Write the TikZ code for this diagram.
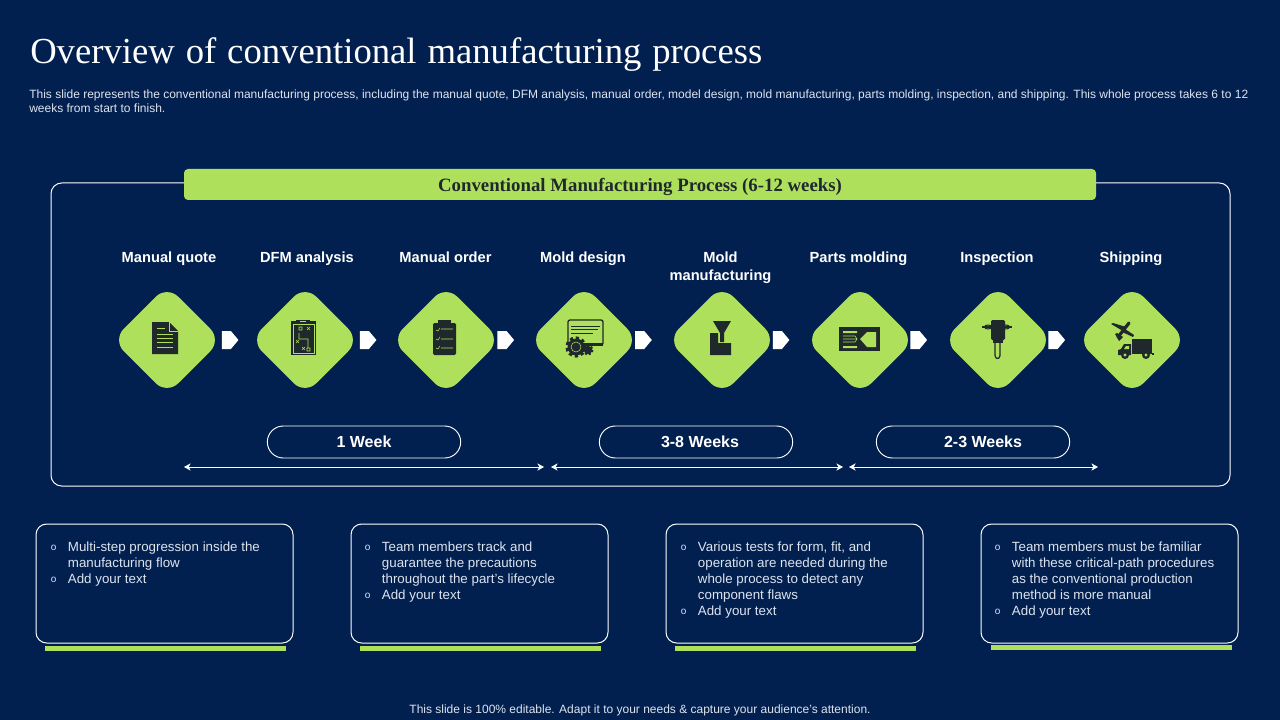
\documentclass[tikz,border=0pt]{standalone}
\usepackage{fontspec}
\setmainfont{Liberation Sans}
\newfontfamily\titlefont{Liberation Serif}
\newfontfamily\headfont{Liberation Serif}
\usetikzlibrary{positioning, arrows.meta, shapes.geometric, shapes.symbols}
\definecolor{pagenavy}{RGB}{1,32,79}
\definecolor{leafgreen}{RGB}{175,224,92}
\definecolor{icondark}{RGB}{31,41,44}
\definecolor{softwhite}{RGB}{222,228,238}
\newcommand{\ringmark}{\raisebox{0.6pt}{\fontsize{7.5}{7.5}\selectfont o}}
\newcommand{\titlegaps}{\spaceskip=8.2pt\relax}

\begin{document}
\begin{tikzpicture}[
    x=0.75pt, y=-0.75pt,
    on grid,
    >={Stealth[length=5pt, width=5.5pt, inset=1.5pt]},
    stepbox/.style={diamond, aspect=1, fill=leafgreen, rounded corners=12pt, minimum size=81.75pt, inner sep=0pt, outer sep=0pt},
    nudge/.style={signal, signal to=east, signal pointer angle=100, fill=white, minimum width=12.5pt, minimum height=13.5pt, inner sep=0pt, outer sep=0pt},
    steplbl/.style={text=white, align=center, font=\fontsize{11}{13.5}\selectfont\bfseries, anchor=north},
    pill/.style={draw=white, line width=0.7pt, rounded corners=12pt, minimum width=145pt, minimum height=24pt, inner sep=0pt, text=white, font=\fontsize{12}{14}\selectfont\bfseries},
    span/.style={<->, draw=white, line width=0.7pt},
    notebox/.style={draw=white, line width=0.75pt, rounded corners=8pt, minimum width=192.75pt, minimum height=89.25pt, inner sep=0pt},
    notetext/.style={anchor=north west, text=softwhite, inner sep=0pt, xshift=11.25pt, yshift=-12.25pt, font=\fontsize{10}{12}\selectfont},
    notebar/.style={fill=leafgreen, minimum width=180.75pt, minimum height=3.75pt, inner sep=0pt},
    ink/.style={fill=icondark},
    vein/.style={draw=leafgreen, line width=0.4pt}
]
\fill[pagenavy] (0,0) rectangle (1280,720);
\useasboundingbox (0,0) rectangle (1280,720);

\node[anchor=base west, inner sep=0pt, text=white, font=\titlefont\fontsize{27.5}{32}\selectfont\titlegaps] (title) at (30,64) {Overview of conventional manufacturing process};
\node[anchor=north west, inner sep=0pt, align=left, text=softwhite, font=\fontsize{9}{10.5}\selectfont] (intro) at (29,90) {This slide represents the conventional manufacturing process, including the manual quote, DFM analysis, manual order, model design, mold manufacturing, parts molding, inspection, and shipping. This whole process takes 6 to 12\\weeks from start to finish.};

\node[draw=white, line width=0.75pt, rounded corners=8pt, minimum width=884.25pt, minimum height=227.25pt, inner sep=0pt] (frame) at (640.5,334.5) {};
\node[fill=leafgreen, rounded corners=3pt, minimum width=684pt, minimum height=23.25pt, inner sep=0pt, text height=13.5pt, text depth=3.5pt, text=icondark, font=\headfont\fontsize{14.1}{16}\selectfont\bfseries] (banner) at (640,184.5) {Conventional Manufacturing Process (6-12 weeks)};

\node[stepbox] (quote) at (167,340) {};
\node[stepbox, right=103.5pt of quote] (dfm) {};
\node[stepbox, right=105.75pt of dfm] (order) {};
\node[stepbox, right=103.5pt of order] (design) {};
\node[stepbox, right=103.5pt of design] (mold) {};
\node[stepbox, right=103.5pt of mold] (molding) {};
\node[stepbox, right=103.5pt of molding] (inspect) {};
\node[stepbox, right=100.5pt of inspect] (ship) {};

\node[steplbl] (quotelbl) at (169,247) {Manual quote};
\node[steplbl] (dfmlbl) at (307,247) {DFM analysis};
\node[steplbl] (orderlbl) at (445.5,247) {Manual order};
\node[steplbl] (designlbl) at (583,247) {Mold design};
\node[steplbl] (moldlbl) at (720.5,247) {Mold\\manufacturing};
\node[steplbl] (moldinglbl) at (858.5,247) {Parts molding};
\node[steplbl] (inspectlbl) at (997,247) {Inspection};
\node[steplbl] (shiplbl) at (1131,247) {Shipping};

\node[nudge, right=44.5pt of quote] (nudgea) {};
\node[nudge, right=44.5pt of dfm] (nudgeb) {};
\node[nudge, right=42pt of order] (nudgec) {};
\node[nudge, right=41.75pt of design] (nudged) {};
\node[nudge, right=41.5pt of mold] (nudgee) {};
\node[nudge, right=41.25pt of molding] (nudgef) {};
\node[nudge, right=41.25pt of inspect] (nudgeg) {};

\begin{scope}[shift={(quote.center)}]
\fill[ink] (-15,-18) -- (2,-18) -- (11,-9) -- (11,14) -- (-15,14) -- cycle;
\draw[vein] (2,-18) -- (2,-9) -- (11,-9);
\draw[vein] (-10,-12) -- (-2,-12) (-10,-6) -- (6,-6) (-10,-2) -- (6,-2) (-10,2) -- (6,2) (-10,7) -- (6,7);
\end{scope}

\begin{scope}[shift={(dfm.center)}]
\fill[ink] (-14,-19) rectangle (11,15);
\fill[ink] (-9,-20) rectangle (5,-16);
\draw[vein] (-12,-16) -- (-12,13) -- (9,13) -- (9,-16) -- cycle;
\draw[vein] (-5,-18.5) -- (1,-18.5);
\draw[vein] (-6,-13) rectangle (-3,-10) (-6,-7) -- (-6,-1) -- (3,-1) -- (3,8) (2,-13) -- (5,-10) (5,-13) -- (2,-10);
\draw[vein] (-9,0) -- (-6,3) (-6,0) -- (-9,3) (-3,7) -- (0,10) (0,7) -- (-3,10) (2,8) rectangle (5,11);
\end{scope}

\begin{scope}[shift={(order.center)}]
\fill[ink, rounded corners=1pt] (-13,-17) rectangle (10,15);
\fill[ink] (-8,-20) rectangle (5,-15);
\draw[vein] (-10,-10) -- (-8,-9) -- (-6,-12) (-5,-11) -- (7,-11);
\draw[vein] (-10,-1) -- (-8,0) -- (-6,-3) (-5,-1) -- (7,-1);
\draw[vein] (-10,8) -- (-8,9) -- (-6,6) (-5,8) -- (7,8);
\end{scope}

\begin{scope}[shift={(design.center)}]
\draw[draw=icondark, line width=1pt, rounded corners=1.5pt] (-16,-20) rectangle (19,5);
\fill[ink] (-16,3) rectangle (19,6);
\draw[draw=icondark, line width=0.7pt] (-13,-14) -- (16,-14) (-13,-11) -- (14,-11) (-13,-7) -- (9,-7);
\fill[ink] (4,10) circle (4.2);
\draw[draw=icondark, line width=1.6pt, dash pattern=on 1.6pt off 1.4pt] (4,10) circle (4.5);
\fill[ink] (-8,7) circle (8.5);
\draw[draw=icondark, line width=2.4pt, dash pattern=on 2.4pt off 2.1pt] (-8,7) circle (9);
\draw[vein] (-8,7) circle (5);
\end{scope}

\begin{scope}[shift={(mold.center)}]
\fill[ink] (-9,-19) -- (9,-19) -- (2,-7) -- (2,2) -- (-2,2) -- (-2,-7) -- cycle;
\fill[ink] (-12,-7) -- (-4,-7) -- (-4,3) -- (9,3) -- (9,15) -- (-12,15) -- cycle;
\end{scope}

\begin{scope}[shift={(molding.center)}]
\fill[ink] (-21,-13) rectangle (20,11);
\fill[leafgreen] (0,-1) -- (7,-8) -- (16,-8) -- (16,7) -- (7,7) -- cycle;
\fill[leafgreen] (-17,-9) rectangle (-3,-7) (-17,6) rectangle (-3,8);
\draw[vein] (-17,-4) -- (-5,-4) -- (-3,-1) -- (-5,2) -- (-17,2) (-17,-1) -- (-3,-1);
\end{scope}

\begin{scope}[shift={(inspect.center)}]
\draw[draw=icondark, line width=0.8pt] (-16,-13) -- (14,-13);
\draw[draw=icondark, line width=0.8pt] (-10,-13) ellipse (3.5 and 2) (8,-13) ellipse (3.5 and 2);
\fill[ink, rounded corners=1pt] (-7,-20) rectangle (7,0);
\fill[ink] (-5,0) rectangle (5,3);
\draw[draw=icondark, line width=0.9pt, rounded corners=1pt] (-3,3) -- (-3,17) -- (-0.5,19) -- (2,17) -- (2,3);
\end{scope}

\begin{scope}[shift={(ship.center)}]
\draw[draw=icondark, line width=2.4pt, line cap=round] (-3,-17) -- (-14,-3);
\fill[ink] (-21,-16) -- (-19,-17) -- (-6,-13) -- (-9,-9) -- cycle;
\fill[ink] (-10,-8) -- (-7,-11) -- (2,-5) -- (1,-3) -- cycle;
\fill[ink] (-17,-6) -- (-15,-7) -- (-9,-3) -- (-13,1) -- cycle;
\fill[ink] (0,-1) rectangle (20,14);
\fill[ink] (-1,4) -- (-8,4) -- (-11,9) -- (-14,10) -- (-14,15) -- (-1,15) -- cycle;
\fill[leafgreen] (-6,6) -- (-3,6) -- (-3,9) -- (-8,9) -- cycle;
\fill[ink] (20,13) rectangle (22,15);
\fill[ink] (-7,15) circle (4) (14,15) circle (4);
\fill[leafgreen] (-7,15) circle (1.7) (14,15) circle (1.7);
\end{scope}

\node[pill] (weeka) at (364,442) {1 Week};
\node[pill] (weekb) at (696,442) {\hspace{6pt}3-8 Weeks};
\node[pill] (weekc) at (973,442) {\hspace{15pt}2-3 Weeks};

\coordinate (spana) at (184,467);
\coordinate (spanb) at (544,467);
\coordinate (spanc) at (551,467);
\coordinate (spand) at (843,467);
\coordinate (spane) at (849,467);
\coordinate (spanf) at (1098,467);
\draw[span] (spana) -- (spanb);
\draw[span] (spanc) -- (spand);
\draw[span] (spane) -- (spanf);

\node[notebox] (notea) at (164.5,583.5) {};
\node[notebox, right=236.25pt of notea] (noteb) {};
\node[notebox, right=236.25pt of noteb] (notec) {};
\node[notebox, right=236.25pt of notec] (noted) {};

\node[notebar, below=48.75pt of notea, xshift=0.75pt] (bara) {};
\node[notebar, below=48.75pt of noteb, xshift=0.75pt] (barb) {};
\node[notebar, below=48.75pt of notec, xshift=0.75pt] (barc) {};
\node[notebar, below=48.75pt of noted, xshift=1.5pt, yshift=0.5pt] (bard) {};

\node[notetext] (texta) at (notea.north west) {\begin{tabular}{@{}l@{\hspace{8.7pt}}l@{}}
\ringmark & Multi-step progression inside the\\
 & manufacturing flow\\
\ringmark & Add your text
\end{tabular}};
\node[notetext, xshift=-0.75pt] (textb) at (noteb.north west) {\begin{tabular}{@{}l@{\hspace{8.7pt}}l@{}}
\ringmark & Team members track and\\
 & guarantee the precautions\\
 & throughout the part's lifecycle\\
\ringmark & Add your text
\end{tabular}};
\node[notetext] (textc) at (notec.north west) {\begin{tabular}{@{}l@{\hspace{8.7pt}}l@{}}
\ringmark & Various tests for form, fit, and\\
 & operation are needed during the\\
 & whole process to detect any\\
 & component flaws\\
\ringmark & Add your text
\end{tabular}};
\node[notetext, xshift=-0.75pt] (textd) at (noted.north west) {\begin{tabular}{@{}l@{\hspace{8.7pt}}l@{}}
\ringmark & Team members must be familiar\\
 & with these critical-path procedures\\
 & as the conventional production\\
 & method is more manual\\
\ringmark & Add your text
\end{tabular}};

\node[inner sep=0pt, text=softwhite, font=\fontsize{9}{11}\selectfont] (foot) at (640,710) {This slide is 100\% editable. Adapt it to your needs \& capture your audience’s attention.};
\end{tikzpicture}
\end{document}
